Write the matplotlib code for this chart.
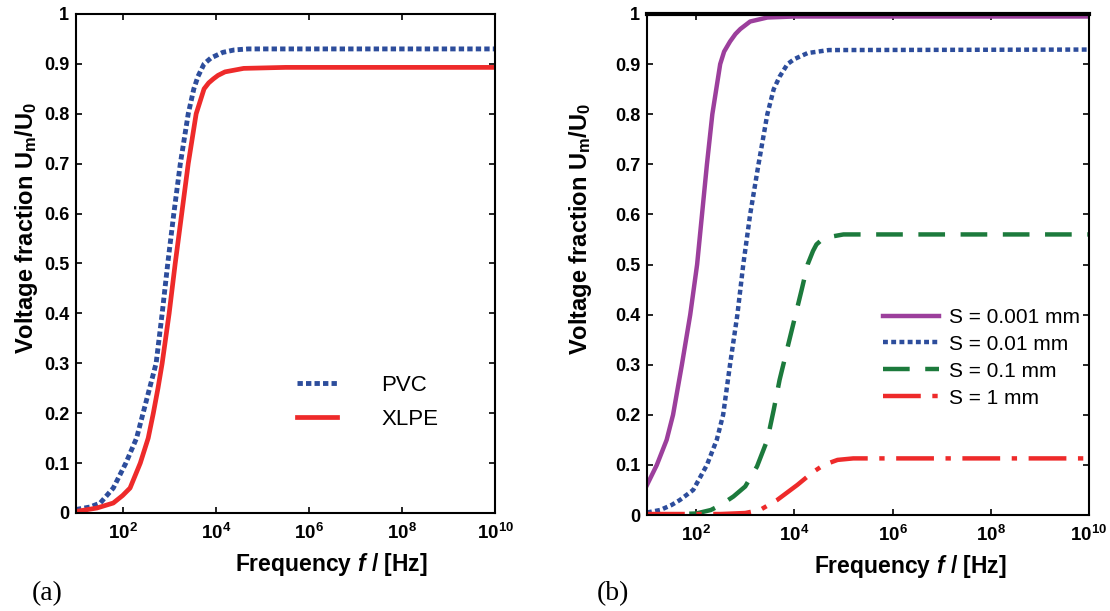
import numpy as np
import matplotlib
matplotlib.use("Agg")
import matplotlib.pyplot as plt

plt.rcParams['font.family'] = ['Liberation Sans', 'DejaVu Sans']
plt.rcParams['mathtext.fontset'] = 'custom'
plt.rcParams['mathtext.rm'] = 'Liberation Sans:bold'
plt.rcParams['mathtext.bf'] = 'Liberation Sans:bold'
plt.rcParams['mathtext.it'] = 'Liberation Sans:bold:italic'
plt.rcParams['mathtext.bfit'] = 'Liberation Sans:bold:italic'

# ---- data (log10 of frequency in Hz, voltage fraction) ----
# panel (a)
pvc_logf = [1.0, 1.3, 1.52, 1.8, 2.07, 2.3, 2.44, 2.58, 2.72, 2.85, 2.97, 3.10,
            3.24, 3.41, 3.53, 3.62, 3.75, 3.9, 4.15, 4.4, 4.7, 10.0]
pvc_u = [0.007, 0.012, 0.02, 0.05, 0.10, 0.15, 0.20, 0.25, 0.30, 0.40, 0.50, 0.60,
         0.70, 0.80, 0.85, 0.875, 0.90, 0.912, 0.923, 0.928, 0.93, 0.93]

xlpe_logf = [1.0, 1.45, 1.8, 2.0, 2.16, 2.38, 2.55, 2.66, 2.76, 2.85, 3.0, 3.13,
             3.27, 3.41, 3.58, 3.75, 3.85, 3.95, 4.05, 4.2, 4.6, 5.5, 10.0]
xlpe_u = [0.003, 0.01, 0.02, 0.035, 0.05, 0.10, 0.15, 0.20, 0.25, 0.30, 0.40, 0.50,
          0.60, 0.70, 0.80, 0.85, 0.862, 0.87, 0.877, 0.884, 0.891, 0.893, 0.893]

# panel (b)
s0001_logf = [1.0, 1.2, 1.4, 1.53, 1.71, 1.88, 2.02, 2.12, 2.22, 2.33, 2.49, 2.57,
              2.69, 2.8, 2.9, 3.1, 3.45, 4.0, 10.0]
s0001_u = [0.06, 0.10, 0.15, 0.20, 0.30, 0.40, 0.50, 0.60, 0.70, 0.80, 0.90, 0.925,
           0.945, 0.96, 0.97, 0.985, 0.993, 0.995, 0.995]

s001_logf = [1.0, 1.27, 1.5, 1.67, 1.94, 2.22, 2.42, 2.55, 2.69, 2.84, 2.96, 3.1,
             3.27, 3.45, 3.58, 3.7, 3.86, 4.0, 4.27, 4.7, 10.0]
s001_u = [0.005, 0.01, 0.02, 0.03, 0.05, 0.10, 0.15, 0.20, 0.30, 0.40, 0.50, 0.60,
          0.70, 0.80, 0.85, 0.875, 0.90, 0.91, 0.922, 0.928, 0.929]

s01_logf = [1.0, 2.0, 2.3, 2.5, 2.76, 3.0, 3.24, 3.45, 3.58, 3.7, 3.85, 4.0, 4.15,
            4.27, 4.38, 4.45, 4.6, 5.0, 10.0]
s01_u = [0.0, 0.003, 0.01, 0.02, 0.037, 0.057, 0.097, 0.15, 0.21, 0.27, 0.33, 0.39,
         0.45, 0.50, 0.527, 0.54, 0.553, 0.56, 0.56]

s1_logf = [1.0, 2.5, 3.0, 3.3, 3.65, 4.06, 4.37, 4.6, 4.88, 5.2, 10.0]
s1_u = [0.002, 0.002, 0.004, 0.01, 0.03, 0.06, 0.085, 0.10, 0.11, 0.113, 0.113]

xtick_vals = [1e2, 1e4, 1e6, 1e8, 1e10]
xtick_labels = [r'$\mathbf{10^{2}}$', r'$\mathbf{10^{4}}$', r'$\mathbf{10^{6}}$',
                r'$\mathbf{10^{8}}$', r'$\mathbf{10^{10}}$']
ytick_vals = [0, 0.1, 0.2, 0.3, 0.4, 0.5, 0.6, 0.7, 0.8, 0.9, 1.0]
ytick_labels = ['0', '0.1', '0.2', '0.3', '0.4', '0.5', '0.6', '0.7', '0.8', '0.9', '1']

c_blue = '#2d4d9c'
c_red = '#ee2a2a'
c_purple = '#9c3f9c'
c_green = '#1c7a3c'


def f(logs):
    return 10 ** np.asarray(logs)


def style_axes(ax, label_x, label_y_x):
    ax.set_xscale('log')
    ax.set_xlim(10, 1e10)
    ax.set_ylim(0, 1)
    ax.set_xticks(xtick_vals)
    ax.set_xticklabels(xtick_labels, fontsize=13.5)
    ax.minorticks_off()
    ax.set_yticks(ytick_vals)
    ax.set_yticklabels(ytick_labels, fontsize=13, fontweight='bold')
    ax.tick_params(direction='in', length=4, width=1.2, top=True, right=True)
    ax.tick_params(axis='x', pad=7)
    ax.tick_params(axis='y', pad=5)
    for sp in ax.spines.values():
        sp.set_linewidth(1.5)
    ax.set_xlabel(r'Frequency $\mathbfit{f}$ / [Hz]', fontsize=16.5, fontweight='bold')
    ax.set_ylabel(r'Voltage fraction $\mathbf{U_m/U_0}$', fontsize=17, fontweight='bold')
    ax.xaxis.set_label_coords(label_x, -0.076)
    ax.yaxis.set_label_coords(label_y_x, 0.571)


fig = plt.figure(figsize=(11.1, 6.11), dpi=100)
ax1 = fig.add_axes([0.0685, 0.1604, 0.3775, 0.8167])
ax2 = fig.add_axes([0.5829, 0.1571, 0.3982, 0.8200])

# panel (a)
ax1.plot(f(pvc_logf), pvc_u, color=c_blue, lw=3.5, linestyle=(0, (1.1, 0.65)), label='PVC')
ax1.plot(f(xlpe_logf), xlpe_u, color=c_red, lw=3.4, label='XLPE')
style_axes(ax1, 0.61, -0.085)
ax1.legend(loc='center left', bbox_to_anchor=(0.527, 0.222), frameon=False,
           fontsize=16, handlelength=1.8, handletextpad=2.0, labelspacing=0.6,
           borderpad=0, borderaxespad=0)

# panel (b)
ax2.plot(f(s0001_logf), s0001_u, color=c_purple, lw=3.2, label='S = 0.001 mm')
ax2.plot(f(s001_logf), s001_u, color=c_blue, lw=3.2, linestyle=(0, (1.1, 0.75)),
         label='S = 0.01 mm')
ax2.plot(f(s01_logf), s01_u, color=c_green, lw=3.2, linestyle=(0, (6.0, 3.5)),
         label='S = 0.1 mm')
ax2.plot(f(s1_logf), s1_u, color=c_red, lw=3.2, linestyle=(0, (8.5, 2.6, 1.2, 2.6)),
         label='S = 1 mm')
style_axes(ax2, 0.595, -0.12)
ax2.spines['top'].set_linewidth(3)
ax2.legend(loc='center left', bbox_to_anchor=(0.534, 0.314), frameon=False,
           fontsize=15, handlelength=2.7, handletextpad=0.45, labelspacing=0.38,
           borderpad=0, borderaxespad=0)

fig.text(0.029, 0.029, '(a)', family='Liberation Serif', fontsize=20, va='center')
fig.text(0.538, 0.029, '(b)', family='Liberation Serif', fontsize=20, va='center')

fig.savefig('out.png', dpi=100)
